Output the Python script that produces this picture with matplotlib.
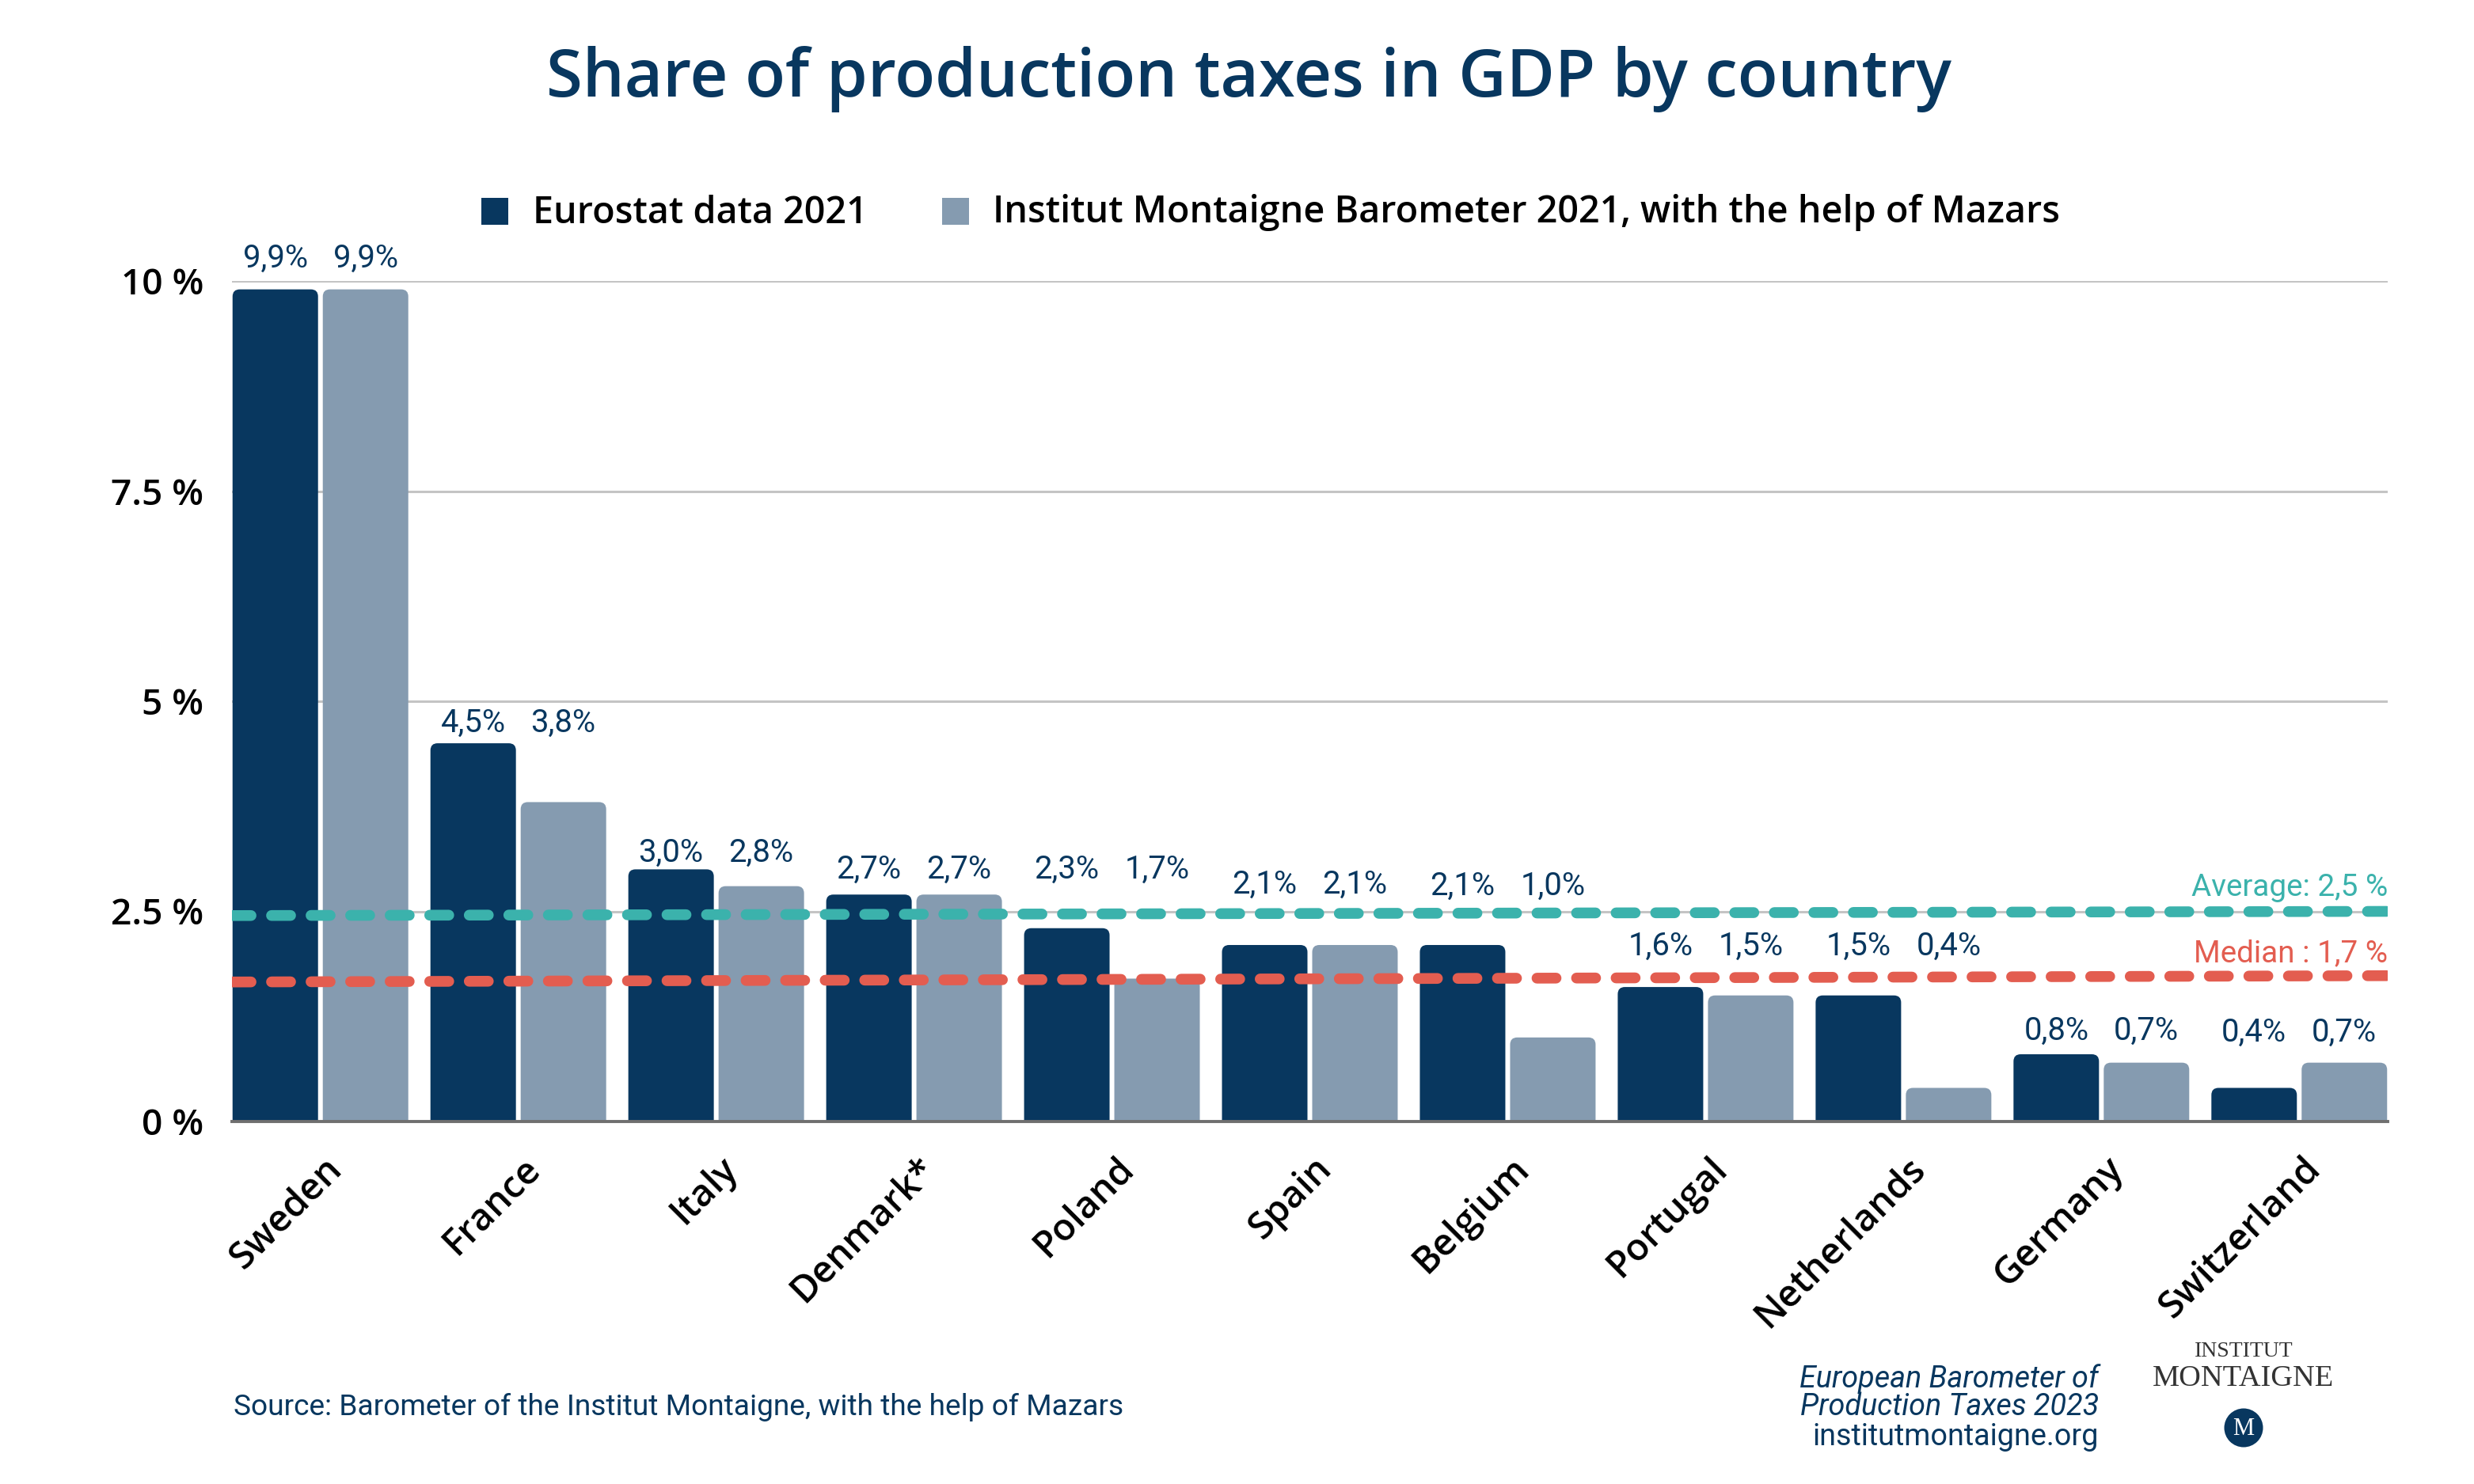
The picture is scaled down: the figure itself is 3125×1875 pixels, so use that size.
import matplotlib
matplotlib.use("Agg")
import matplotlib.pyplot as plt
import matplotlib.transforms as mtrans
from matplotlib.patches import Circle, PathPatch, Rectangle
from matplotlib.path import Path
import numpy as np

plt.rcParams['font.family'] = ['Open Sans', 'DejaVu Sans']

countries = ['Sweden', 'France', 'Italy', 'Denmark*', 'Poland', 'Spain',
             'Belgium', 'Portugal', 'Netherlands', 'Germany', 'Switzerland']
eurostat = [9.9, 4.5, 3.0, 2.7, 2.3, 2.1, 2.1, 1.6, 1.5, 0.8, 0.4]
barometer = [9.9, 3.8, 2.8, 2.7, 1.7, 2.1, 1.0, 1.5, 0.4, 0.7, 0.7]
eurostat_labels = ['9,9%', '4,5%', '3,0%', '2,7%', '2,3%', '2,1%', '2,1%', '1,6%', '1,5%', '0,8%', '0,4%']
barometer_labels = ['9,9%', '3,8%', '2,8%', '2,7%', '1,7%', '2,1%', '1,0%', '1,5%', '0,4%', '0,7%', '0,7%']
average_line = [2.45, 2.5]
median_line = [1.66, 1.735]
y_ticks = [0, 2.5, 5, 7.5, 10]
y_tick_labels = ['0 %', '2.5 %', '5 %', '7.5 %', '10 %']

# height of the value labels, shared per country
label_heights = [10.27, 4.74, 3.2, 3.0, 3.0, 2.82, 2.8, 2.09, 2.09, 1.08, 1.06]

NAVY = '#08375f'
GREY_BLUE = '#859bb0'
TEAL = '#3bb2ac'
RED = '#e35d50'
THIN = ['Roboto', 'DejaVu Sans']
W, H = 3125, 1875

fig = plt.figure(figsize=(W / 200, H / 200), dpi=200)
ax = fig.add_axes([293 / W, 1 - 1417 / H, (3016 - 293) / W, (1417 - 355) / H])
ax.set_xlim(-0.447, 10.447)
ax.set_ylim(0, 10)

x = np.arange(len(countries))
bar_w = 0.432
off = 0.228


def round_top(bar, radius_px=9):
    # swap the square bar for one with rounded top corners
    px_x = (W * ax.get_position().width) / (ax.get_xlim()[1] - ax.get_xlim()[0])
    px_y = (H * ax.get_position().height) / 10
    rx, ry = radius_px / px_x, radius_px / px_y
    x0, w, h = bar.get_x(), bar.get_width(), bar.get_height()
    verts = [(x0, 0), (x0, h - ry), (x0, h), (x0 + rx, h), (x0 + w - rx, h),
             (x0 + w, h), (x0 + w, h - ry), (x0 + w, 0), (x0, 0)]
    codes = [Path.MOVETO, Path.LINETO, Path.CURVE3, Path.CURVE3, Path.LINETO,
             Path.CURVE3, Path.CURVE3, Path.LINETO, Path.CLOSEPOLY]
    ax.add_patch(PathPatch(Path(verts, codes), fc=bar.get_facecolor(), lw=0, zorder=3))
    bar.set_visible(False)


bars1 = ax.bar(x - off, eurostat, bar_w, color=NAVY)
bars2 = ax.bar(x + off, barometer, bar_w, color=GREY_BLUE)
for b in list(bars1) + list(bars2):
    round_top(b)

for i in range(len(countries)):
    ax.text(x[i] - off, label_heights[i], eurostat_labels[i], ha='center', va='center',
            fontsize=14.4, color=NAVY, family=THIN)
    ax.text(x[i] + off, label_heights[i], barometer_labels[i], ha='center', va='center',
            fontsize=14.4, color=NAVY, family=THIN)

line_x = list(ax.get_xlim())
ax.plot(line_x, average_line, color=TEAL, lw=4.9, dashes=(1.77, 1.9), dash_capstyle='round', zorder=4)
ax.plot(line_x, median_line, color=RED, lw=4.9, dashes=(1.77, 1.9), dash_capstyle='round', zorder=4)
ax.text(line_x[1], 2.78, 'Average: 2,5 %', ha='right', va='center', fontsize=13.9, color=TEAL, family=THIN)
ax.text(line_x[1], 2.0, 'Median : 1,7 %', ha='right', va='center', fontsize=13.9, color=RED, family=THIN)

ax.set_yticks(y_ticks)
ax.set_yticklabels(y_tick_labels, fontsize=16.6, fontweight='semibold', color='black')
ax.tick_params(axis='y', length=0, pad=13)
ax.grid(axis='y', color='#c4c4c4', lw=1.1, zorder=0)
ax.set_axisbelow(True)
for s in ['top', 'right', 'left']:
    ax.spines[s].set_visible(False)
ax.spines['bottom'].set_color('#6f6f6f')
ax.spines['bottom'].set_linewidth(1.4)
ax.spines['bottom'].set_zorder(5)

ax.set_xticks(x)
ax.set_xticklabels(countries, rotation=45, ha='right', rotation_mode='anchor',
                   fontsize=17, fontweight='semibold', color='black')
ax.tick_params(axis='x', length=0, pad=13)
shift = mtrans.ScaledTranslation(4 / 200, 0, fig.dpi_scale_trans)
for lab in ax.get_xticklabels():
    lab.set_transform(lab.get_transform() + shift)

fig.text(1577 / W, 1 - 100 / H, 'Share of production taxes in GDP by country', ha='center', va='center',
         fontsize=30, fontweight='semibold', color=NAVY)

# legend
for sq_x, tx_x, label, col in [(608, 673, 'Eurostat data 2021', NAVY),
                               (1190, 1254, 'Institut Montaigne Barometer 2021, with the help of Mazars', GREY_BLUE)]:
    fig.add_artist(Rectangle((sq_x / W, 1 - 284 / H), 34 / W, 34 / H, color=col, lw=0,
                             transform=fig.transFigure))
    fig.text(tx_x / W, 1 - 269 / H, label, ha='left', va='center', fontsize=16.85, fontweight='semibold', color='black')

# footer
fig.text(295 / W, 1 - 1778 / H, 'Source: Barometer of the Institut Montaigne, with the help of Mazars',
         fontsize=13.35, color=NAVY, va='center', family=THIN)
fig.text(2651 / W, 1 - 1742 / H, 'European Barometer of', ha='right', va='center', fontsize=13.6,
         color=NAVY, style='italic', family=THIN)
fig.text(2651 / W, 1 - 1778 / H, 'Production Taxes 2023', ha='right', va='center', fontsize=13.6,
         color=NAVY, style='italic', family=THIN)
fig.text(2651 / W, 1 - 1816 / H, 'institutmontaigne.org', ha='right', va='center', fontsize=13.6,
         color=NAVY, family=THIN)

# logo
fig.text(2834 / W, 1 - 1707 / H, 'INSTITUT', ha='center', va='center', fontsize=10, color='#333333',
         family=['Liberation Serif'])
fig.text(2834 / W, 1 - 1742 / H, 'MONTAIGNE', ha='center', va='center', fontsize=13.8, color='#333333',
         family=['Liberation Serif'])
logo = fig.add_axes([(2834 - 25) / W, 1 - (1804 + 25) / H, 50 / W, 50 / H])
logo.set_xlim(-1, 1)
logo.set_ylim(-1, 1)
logo.axis('off')
logo.add_patch(Circle((0, 0), 0.98, color=NAVY, lw=0))
logo.text(0, -0.05, 'M', ha='center', va='center', color='white', fontsize=11, family=['Liberation Serif'])

fig.savefig('out.png', dpi=200)
